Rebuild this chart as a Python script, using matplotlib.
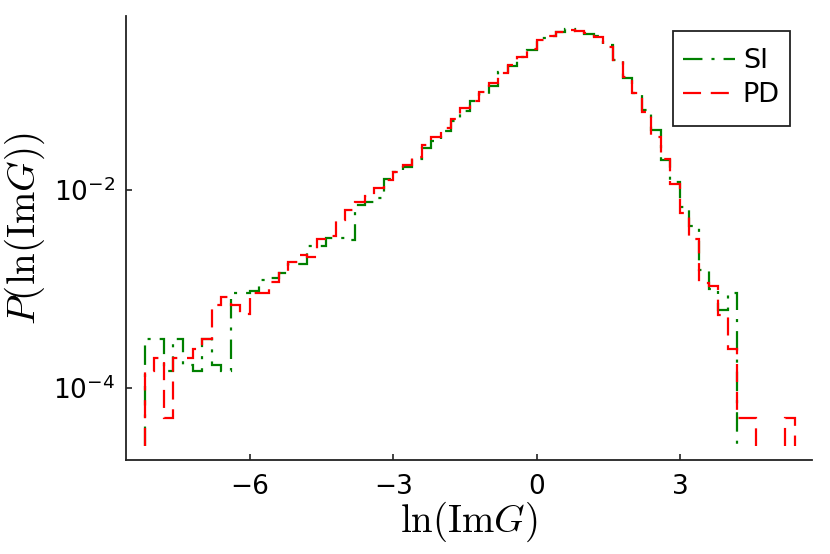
import numpy as np
import matplotlib
matplotlib.use("Agg")
import matplotlib.pyplot as plt
from matplotlib.patches import Rectangle
from matplotlib.ticker import FixedLocator, NullLocator

# histogram of ln(Im G), shared bins of width 0.2
bin_edges = np.round(np.arange(-8.2, 5.41, 0.2), 1)

# SI : probability density per bin
si_vals = [3.1e-4, 3.1e-4, 1.5e-4, 3.1e-4, 1.7e-4, 1.5e-4, 3.1e-4, 1.7e-4,
           1.5e-4, 9.1e-4, 9.1e-4, 9.5e-4, 1.22e-3, 1.3e-3, 1.45e-3, 1.8e-3,
           1.8e-3, 2.7e-3, 2.7e-3, 3.3e-3, 3.3e-3, 3.1e-3, 7.0e-3, 7.6e-3,
           8.3e-3, 0.0128, 0.0153, 0.0170, 0.0205, 0.0263, 0.0314, 0.039,
           0.050, 0.062, 0.079, 0.093, 0.113, 0.156, 0.178, 0.22,
           0.26, 0.34, 0.36, 0.39, 0.42, 0.40, 0.375, 0.36,
           0.29, 0.205, 0.135, 0.096, 0.064, 0.040, 0.020, 0.012,
           0.0067, 0.0043, 0.00154, 1.0e-3, 6.1e-4, 9.1e-4, 0, 0,
           0, 0, 0, 0]

# PD
pd_vals = [1.5e-4, 2.0e-4, 5.0e-5, 2.0e-4, 2.0e-4, 2.5e-4, 3.1e-4, 6.9e-4,
           8.4e-4, 6.9e-4, 5.6e-4, 9.2e-4, 9.2e-4, 1.19e-3, 1.45e-3, 1.89e-3,
           2.2e-3, 2.1e-3, 3.2e-3, 3.4e-3, 5.0e-3, 6.3e-3, 7.6e-3, 8.7e-3,
           0.0104, 0.0126, 0.0151, 0.0179, 0.0214, 0.0284, 0.0339, 0.0419,
           0.0517, 0.067, 0.079, 0.098, 0.119, 0.150, 0.181, 0.22,
           0.263, 0.326, 0.357, 0.39, 0.41, 0.40, 0.385, 0.35,
           0.28, 0.205, 0.139, 0.096, 0.061, 0.0345, 0.0204, 0.0115,
           0.0058, 0.0032, 0.00115, 0.00108, 5.5e-4, 2.5e-4, 5e-5, 5e-5,
           0, 0, 0, 5e-5]

series_names = ["SI", "PD"]
floor = 2.6e-5


def draw_steps(ax, vals, edges, label, **kw):
    # draw each run of non-empty bins as its own step outline
    vals = np.asarray(vals, dtype=float)
    i, first = 0, True
    while i < len(vals):
        if vals[i] <= 0:
            i += 1
            continue
        j = i
        while j < len(vals) and vals[j] > 0:
            j += 1
        ax.stairs(vals[i:j], edges[i:j + 1], baseline=floor,
                  label=label if first else None, **kw)
        first = False
        i = j


plt.rcParams["lines.scale_dashes"] = False
fig = plt.figure(figsize=(8.3, 5.54), dpi=100)
ax = fig.add_axes([0.152, 0.170, 0.826, 0.801])

draw_steps(ax, si_vals, bin_edges, series_names[0], color="#008000",
           linewidth=1.6, linestyle=(0, (14, 6.5, 2.2, 6.5)))
draw_steps(ax, pd_vals, bin_edges, series_names[1], color="#ff0000",
           linewidth=1.6, linestyle=(0, (13, 7)))

ax.set_yscale("log")
ax.set_xlim(-8.59, 5.76)
ax.set_ylim(1.89e-5, 0.569)
ax.xaxis.set_major_locator(FixedLocator([-6, -3, 0, 3]))
ax.yaxis.set_major_locator(FixedLocator([1e-4, 1e-2]))
ax.yaxis.set_minor_locator(NullLocator())

for side in ["top", "right"]:
    ax.spines[side].set_visible(False)
for side in ["left", "bottom"]:
    ax.spines[side].set_linewidth(1.3)
    ax.spines[side].set_color("#222222")
ax.tick_params(direction="in", length=4, width=1.2, labelsize=19,
               colors="#222222", labelcolor="black")
ax.tick_params(axis="x", pad=10)
ax.tick_params(axis="y", pad=8)

ax.set_xlabel(r"$\ln(\mathrm{Im}G)$", fontsize=28, math_fontfamily="cm")
ax.set_ylabel(r"$P(\ln(\mathrm{Im}G))$", fontsize=28, math_fontfamily="cm")
ax.xaxis.set_label_coords(0.5, -0.09)
ax.yaxis.set_label_coords(-0.115, 0.52)

# legend box: entries centred inside a plain square frame
box = (0.797, 0.753, 0.172, 0.213)
ax.add_patch(Rectangle(box[:2], box[2], box[3], transform=ax.transAxes,
                       facecolor="white", edgecolor="#222222",
                       linewidth=1.3, zorder=4))
leg = ax.legend(loc="center", bbox_to_anchor=box, borderaxespad=0,
                fontsize=19.5, frameon=False, handlelength=1.9,
                handletextpad=0.3, borderpad=0, labelspacing=0.3)
leg.set_zorder(5)

fig.savefig("out.png", dpi=100)
